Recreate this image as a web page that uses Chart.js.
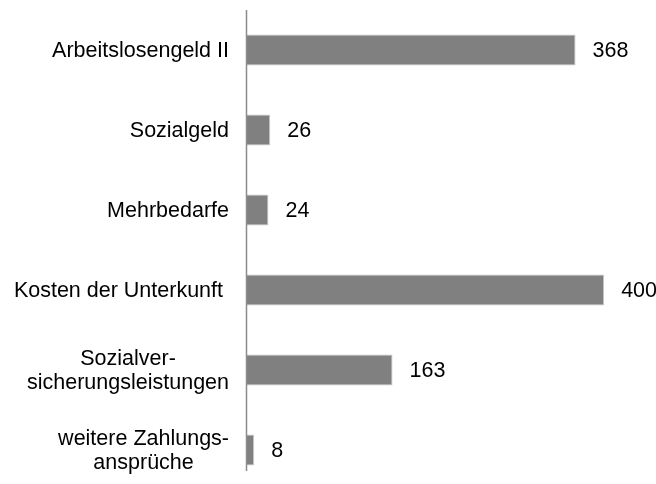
<!DOCTYPE html>
<html lang="de">
<head>
<meta charset="utf-8">
<title>Leistungen</title>
<script src="https://cdn.jsdelivr.net/npm/chart.js@4/dist/chart.umd.min.js"></script>
<style>
  html, body { margin: 0; padding: 0; background: #fff; overflow: hidden; }
  #wrap { position: relative; width: 656px; height: 500px; }
</style>
</head>
<body>
<div id="wrap"><canvas id="chart"></canvas></div>
<script>
// Kategorien (mehrzeilige Beschriftungen als Arrays)
const categories = [
  ['Arbeitslosengeld II'],
  ['Sozialgeld'],
  ['Mehrbedarfe'],
  ['Kosten der Unterkunft '],
  ['Sozialver-', 'sicherungsleistungen'],
  ['weitere Zahlungs-', 'ansprüche']
];
const values = [368, 26, 24, 400, 163, 8];

const FONT = '21.5px "Liberation Sans", Arial, sans-serif';

// Kategoriebeschriftungen links, Block rechtsbündig, Zeilen zentriert
const labelPlugin = {
  id: 'catLabels',
  afterDraw(chart) {
    const ctx = chart.ctx;
    const y = chart.scales.y;
    const right = chart.chartArea.left - 18;
    const lh = 24;
    ctx.save();
    ctx.font = FONT;
    ctx.fillStyle = '#000';
    ctx.textBaseline = 'middle';
    ctx.textAlign = 'center';
    categories.forEach((lines, i) => {
      const cy = y.getPixelForValue(i) + 1;
      const w = Math.max(...lines.map(l => ctx.measureText(l).width));
      const cx = right - w / 2;
      const y0 = cy - (lines.length - 1) * lh / 2;
      lines.forEach((l, j) => ctx.fillText(l, cx, y0 + j * lh));
    });
    ctx.restore();
  }
};

// Werte rechts neben den Balken
const valuePlugin = {
  id: 'valueLabels',
  afterDatasetsDraw(chart) {
    const ctx = chart.ctx;
    const meta = chart.getDatasetMeta(0);
    ctx.save();
    ctx.font = FONT;
    ctx.fillStyle = '#000';
    ctx.textBaseline = 'middle';
    ctx.textAlign = 'left';
    meta.data.forEach((bar, i) => {
      ctx.fillText(String(values[i]), bar.x + 17, bar.y + 1);
    });
    ctx.restore();
  }
};

// senkrechte Achsenlinie
const axisPlugin = {
  id: 'axisLine',
  afterDatasetsDraw(chart) {
    const ctx = chart.ctx;
    const y = chart.scales.y;
    const x = chart.chartArea.left - 0.5;
    const bottom = y.getPixelForValue(categories.length - 1) + 21;
    ctx.save();
    ctx.strokeStyle = '#8c8c8c';
    ctx.lineWidth = 1.5;
    ctx.beginPath();
    ctx.moveTo(x, chart.chartArea.top);
    ctx.lineTo(x, bottom);
    ctx.stroke();
    ctx.restore();
  }
};

new Chart(document.getElementById('chart'), {
  type: 'bar',
  data: {
    labels: categories,
    datasets: [{
      data: values,
      backgroundColor: '#808080',
      borderColor: '#c8c8c8',
      borderWidth: 1,
      borderSkipped: 'start',
      categoryPercentage: 1,
      barPercentage: 0.39
    }]
  },
  options: {
    indexAxis: 'y',
    responsive: true,
    maintainAspectRatio: false,
    animation: false,
    layout: { padding: { left: 247, right: 9, top: 10, bottom: 10 } },
    plugins: { legend: { display: false }, tooltip: { enabled: false } },
    scales: {
      x: { display: false, min: 0, max: 448 },
      y: { display: false }
    }
  },
  plugins: [labelPlugin, valuePlugin, axisPlugin]
});
</script>
</body>
</html>
